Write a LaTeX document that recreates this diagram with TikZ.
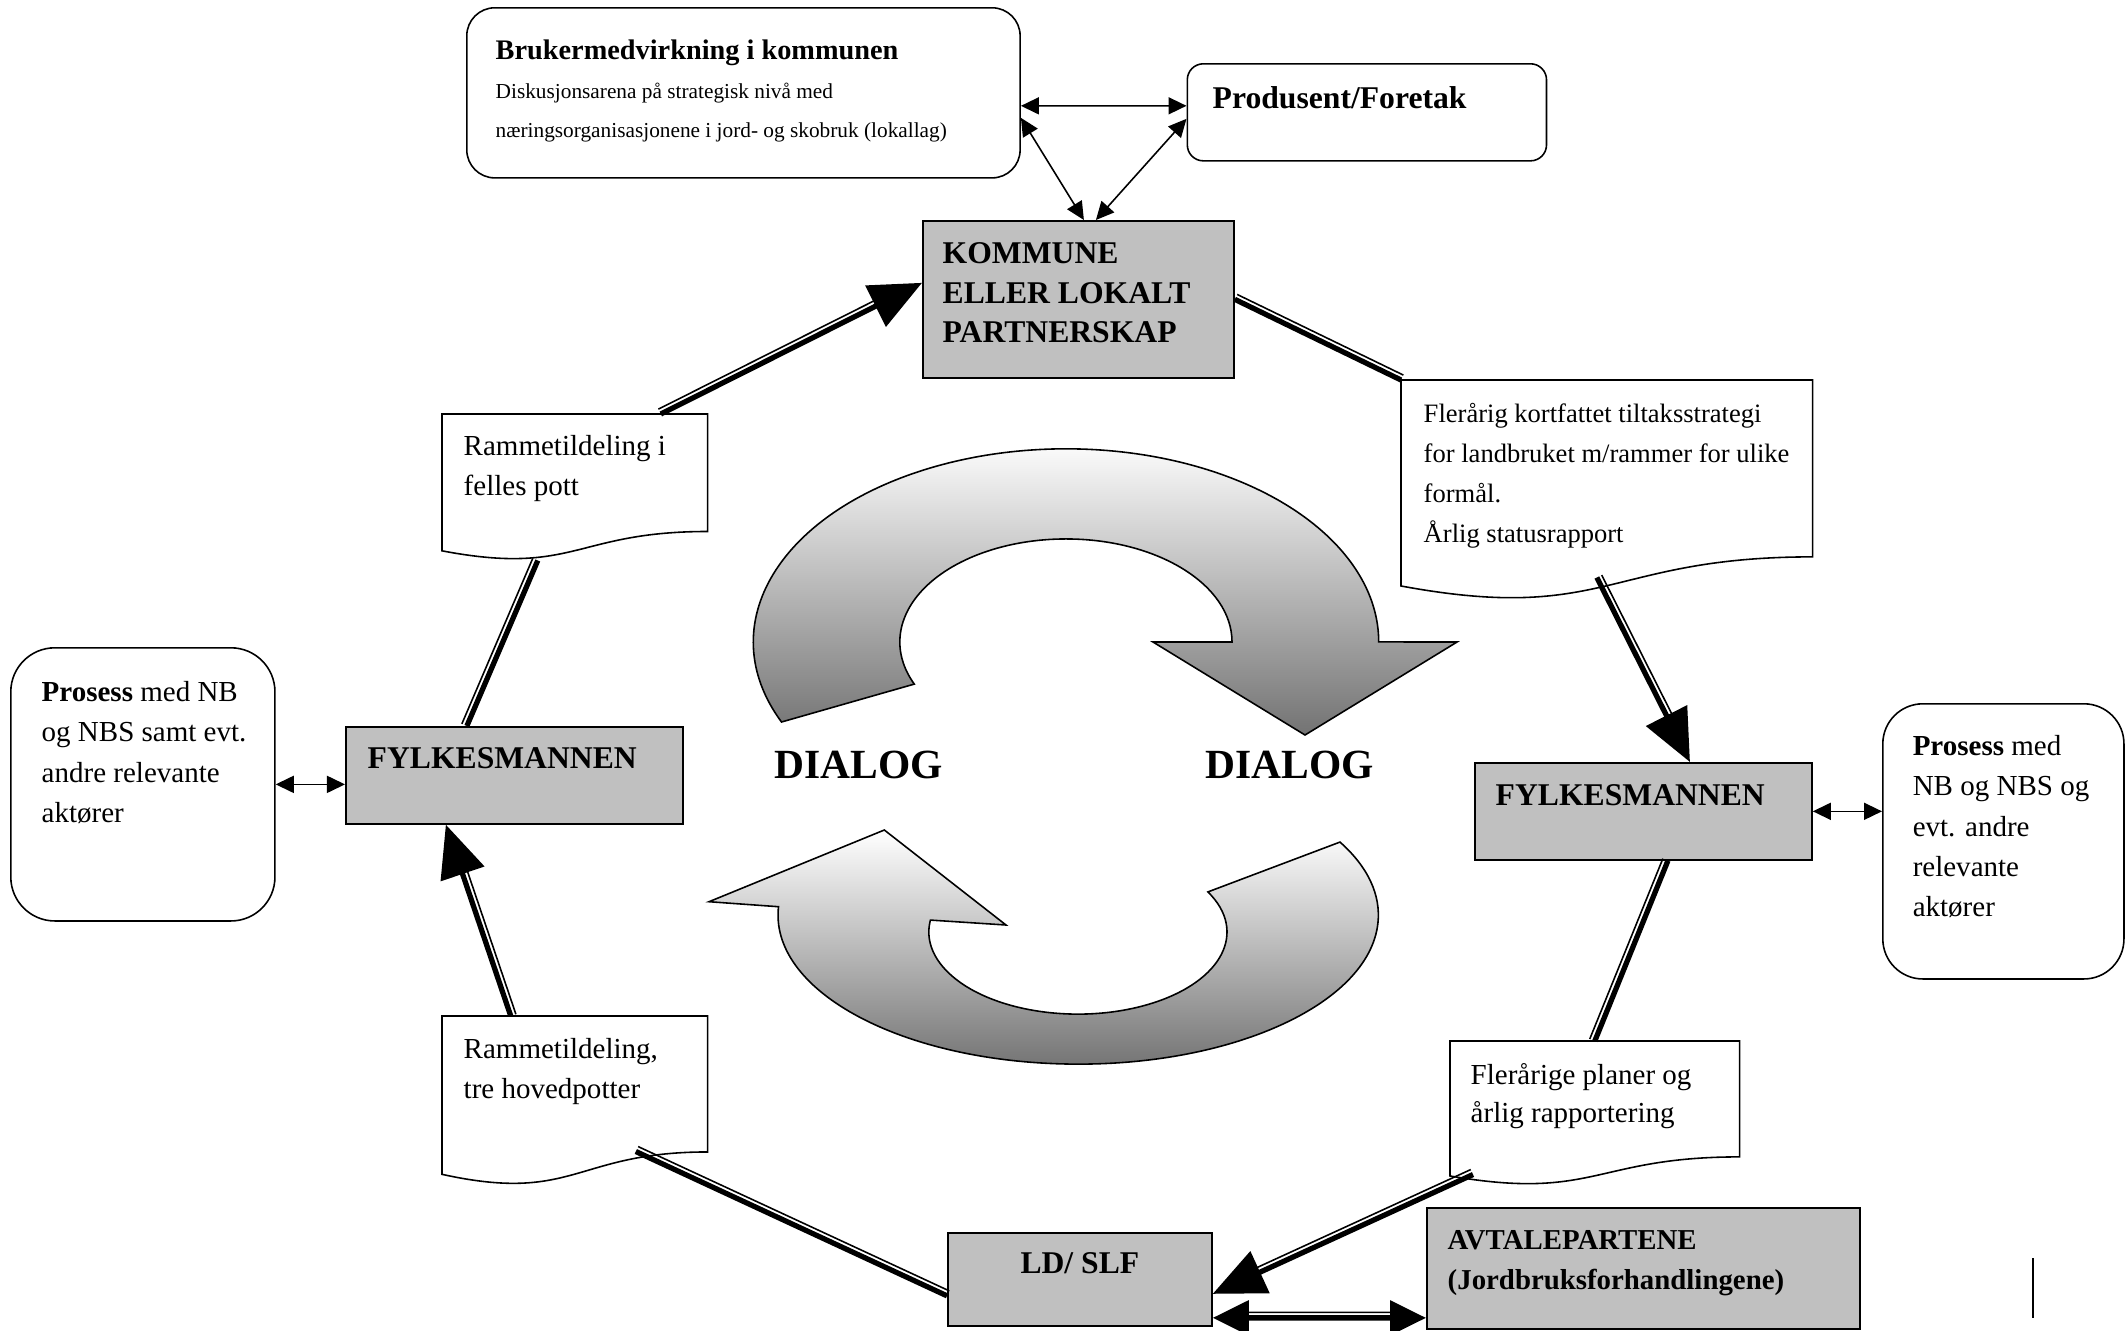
\documentclass[tikz,border=0pt]{standalone}
\usepackage{fontspec}
\setmainfont{Liberation Serif}
\usetikzlibrary{arrows.meta, positioning, calc}

\definecolor{boxgray}{RGB}{192,192,192}

% document shape with a wavy lower edge
\newcommand{\docframe}[1]{%
  \draw[docline] (#1.north west) -- (#1.north east)
    -- ($(#1.north east)!0.802!(#1.south east)$)
    .. controls ($(#1.north)!0.802!(#1.south)$) and ($(#1.north)!1.107!(#1.south)$)
    .. ($(#1.north west)!0.934!(#1.south west)$) -- cycle;}

% thick line with a thin line beside it (side, from, to, thin opts, thick opts)
\newcommand{\twoline}[5]{%
  \draw[thinpart,#4] ($(#2)!1.55pt!#1:(#3)$) -- ($(#3)!1.55pt!-#1:(#2)$);
  \draw[thickpart,#5] (#2) -- (#3);}

\begin{document}
\begin{tikzpicture}[
    x=0.01cm, y=-0.01cm,
    box/.style={draw, line width=0.45pt, anchor=north west, inner sep=0},
    graybox/.style={box, fill=boxgray},
    roundbox/.style={box, fill=white},
    docbox/.style={anchor=north west, inner sep=0},
    docline/.style={fill=white, line width=0.45pt},
    txt/.style={inner sep=0, align=left, font=\fontsize{8.25}{11.4}\selectfont},
    headtxt/.style={txt, font=\fontsize{9}{11.25}\selectfont\bfseries},
    thickpart/.style={line width=1.5pt},
    thinpart/.style={line width=0.45pt},
    bighead/.style={-{Triangle[length=0.52cm, width=0.45cm]}},
    thinend/.style={shorten >=0.3cm},
    smallarrow/.style={{Triangle[length=0.18cm, width=0.17cm]}-{Triangle[length=0.18cm, width=0.17cm]}, line width=0.45pt},
    dialog/.style={draw, line width=0.45pt, top color=white, bottom color=black!55},
    dialogtxt/.style={anchor=base west, inner sep=0, font=\fontsize{11.8}{14}\selectfont\bfseries}
]
\useasboundingbox (0,0) rectangle (2125,1330);

% Dialog arrows
\draw[dialog] (781.5,722) arc[start angle=204.5, end angle=0, x radius=3.125cm, y radius=1.93cm]
    -- (1457,642) -- (1305,735) -- (1153,642) -- (1232,642)
    arc[start angle=0, end angle=204.1, x radius=1.66cm, y radius=1.03cm] -- cycle;
\draw[dialog] (778.5,906.7) arc[start angle=176.8, end angle=389.3, x radius=3cm, y radius=1.49cm]
    -- (1207.9,891.9)
    arc[start angle=29.3, end angle=-188.4, x radius=1.49cm, y radius=0.82cm]
    -- (1006,925) -- (884.3,830) -- (709,901.7) -- cycle;
\node[dialogtxt] (dialogl) at (774,778) {DIALOG};
\node[dialogtxt] (dialogr) at (1205,778) {DIALOG};

% Top
\node[roundbox, rounded corners=0.28cm, minimum width=5.53cm, minimum height=1.70cm] (bruker) at (466,7) {};
\node[txt, font=\fontsize{6.06}{11.1}\selectfont, below right=0.32cm and 0.29cm of bruker.north west] (brukertxt)
    {{\fontsize{8.05}{11.1}\selectfont\bfseries Brukermedvirkning i kommunen}\\Diskusjonsarena på strategisk nivå med\\næringsorganisasjonene i jord- og skobruk (lokallag)};
\node[roundbox, rounded corners=0.16cm, minimum width=3.59cm, minimum height=0.97cm] (prod) at (1186.5,63) {};
\node[headtxt, below right=0.23cm and 0.255cm of prod.north west] (prodtxt) {Produsent/Foretak};
\node[graybox, minimum width=3.11cm, minimum height=1.57cm] (kom) at (922,220) {};
\node[headtxt, below right=0.22cm and 0.20cm of kom.north west] (komtxt) {KOMMUNE\\ELLER LOKALT\\PARTNERSKAP};

% Left side
\node[docbox, minimum width=2.64cm, minimum height=1.45cm] (ram1) at (442,414) {};
\docframe{ram1}
\node[txt, below right=0.21cm and 0.21cm of ram1.north west] (ram1txt) {Rammetildeling i\\felles pott};
\node[roundbox, rounded corners=0.44cm, minimum width=2.64cm, minimum height=2.73cm] (prosl) at (10,647) {};
\node[txt, below right=0.34cm and 0.31cm of prosl.north west] (prosltxt)
    {\textbf{Prosess} med NB\\og NBS samt evt.\\andre relevante\\aktører};
\node[graybox, minimum width=3.37cm, minimum height=0.97cm] (fylkl) at (345,726) {};
\node[headtxt, below right=0.205cm and 0.22cm of fylkl.north west] (fylkltxt) {FYLKESMANNEN};
\node[docbox, minimum width=2.64cm, minimum height=1.68cm] (ram2) at (442,1016) {};
\docframe{ram2}
\node[txt, below right=0.22cm and 0.21cm of ram2.north west] (ram2txt) {Rammetildeling,\\tre hovedpotter};

% Right side
\node[docbox, minimum width=4.10cm, minimum height=2.19cm] (fler) at (1401,380) {};
\docframe{fler}
\node[txt, font=\fontsize{7.55}{11.3}\selectfont, below right=0.23cm and 0.22cm of fler.north west] (flertxt)
    {Flerårig kortfattet tiltaksstrategi\\for landbruket m/rammer for ulike\\formål.\\Årlig statusrapport};
\node[graybox, minimum width=3.37cm, minimum height=0.97cm] (fylkr) at (1474,762) {};
\node[headtxt, below right=0.22cm and 0.21cm of fylkr.north west] (fylkrtxt) {FYLKESMANNEN};
\node[roundbox, rounded corners=0.40cm, minimum width=2.41cm, minimum height=2.75cm] (prosr) at (1882,703) {};
\node[txt, below right=0.32cm and 0.30cm of prosr.north west] (prosrtxt)
    {\textbf{Prosess} med\\NB og NBS og\\evt. andre\\relevante\\aktører};
\node[docbox, minimum width=2.88cm, minimum height=1.43cm] (fler2) at (1450,1041) {};
\docframe{fler2}
\node[txt, font=\fontsize{8.25}{10.6}\selectfont, below right=0.22cm and 0.20cm of fler2.north west] (fler2txt)
    {Flerårige planer og\\årlig rapportering};

% Bottom
\node[graybox, minimum width=2.64cm, minimum height=0.93cm] (ld) at (947,1232) {};
\node[headtxt, below=0.20cm of ld.north] (ldtxt) {LD/ SLF};
\node[graybox, minimum width=4.33cm, minimum height=1.21cm] (avt) at (1426,1207) {};
\node[headtxt, font=\fontsize{8.2}{11.4}\selectfont\bfseries, below right=0.23cm and 0.21cm of avt.north west] (avttxt)
    {AVTALEPARTENE\\(Jordbruksforhandlingene)};

% Cycle connectors
\twoline{90}{[xshift=0.86cm]ram1.north}{[yshift=0.165cm]kom.west}{thinend}{bighead}
\twoline{90}{kom.east}{fler.north west}{}{}
\twoline{90}{[xshift=-0.1cm,yshift=0.23cm]fler.south}{[xshift=0.465cm]fylkr.north}{thinend}{bighead}
\twoline{270}{[xshift=0.245cm]fylkr.south}{fler2.north}{}{}
\twoline{270}{[xshift=0.23cm,yshift=0.11cm]fler2.south west}{[yshift=-0.145cm]ld.east}{thinend}{bighead}
\twoline{270}{[yshift=-0.165cm]ld.west}{[xshift=0.61cm,yshift=0.34cm]ram2.south}{}{}
\twoline{270}{[xshift=-0.64cm]ram2.north}{[xshift=-0.685cm]fylkl.south}{thinend}{bighead}
\twoline{90}{[xshift=-0.475cm]fylkl.north}{[xshift=-0.37cm]ram1.south}{}{}
\twoline{90}{[yshift=-0.385cm]ld.east}{[yshift=-0.495cm]avt.west}{shorten >=0.2cm, shorten <=0.2cm}
    {{Triangle[length=0.36cm, width=0.34cm]}-{Triangle[length=0.36cm, width=0.34cm]}}

% Side arrows
\draw[smallarrow] ([yshift=-0.13cm]bruker.east) -- ([yshift=0.065cm]prod.west);
\draw[smallarrow] ([yshift=-0.25cm]bruker.east) -- ([xshift=0.055cm]kom.north);
\draw[smallarrow] ([yshift=-0.065cm]prod.west) -- ([xshift=0.175cm]kom.north);
\draw[smallarrow] (prosl.east) -- (prosl.east -| fylkl.west);
\draw[smallarrow] (fylkr.east) -- (fylkr.east -| prosr.west);

\draw[line width=0.5pt] (2033,1258) -- (2033,1318);

\end{tikzpicture}
\end{document}
